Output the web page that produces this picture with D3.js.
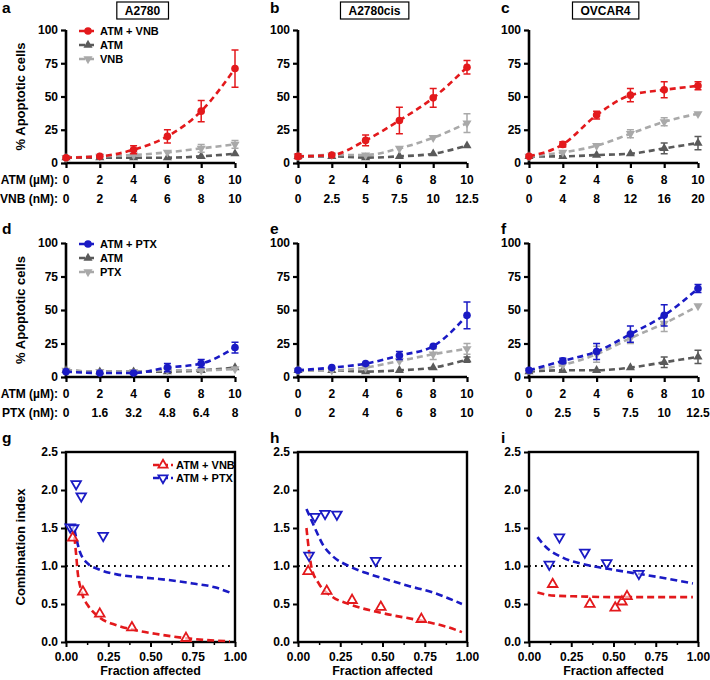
<!DOCTYPE html>
<html><head><meta charset="utf-8">
<script src="https://cdn.jsdelivr.net/npm/d3@7"></script>
<style>
body{margin:0;background:#fff;}
text{font-family:"Liberation Sans",Arial,Helvetica,sans-serif;font-weight:bold;fill:#000;}
</style></head>
<body><svg id="c" width="710" height="680"></svg>
<script>
// ---------- DATA ----------
const atmDose = [0, 2, 4, 6, 8, 10];
const cellLines = ["A2780", "A2780cis", "OVCAR4"];
const panelLettersTop = ["a", "b", "c"];
const panelLettersMid = ["d", "e", "f"];
const panelLettersBot = ["g", "h", "i"];
const yTicksApop = [0, 25, 50, 75, 100];
const yTicksCI = [0, 0.5, 1.0, 1.5, 2.0, 2.5];
const xTicksFa = [0, 0.25, 0.5, 0.75, 1.0];

// second-row dose labels
const vnbLabels = [["0","2","4","6","8","10"], ["0","2.5","5","7.5","10","12.5"], ["0","4","8","12","16","20"]];
const ptxLabels = [["0","1.6","3.2","4.8","6.4","8"], ["0","2","4","6","8","10"], ["0","2.5","5","7.5","10","12.5"]];

// Row 1 (VNB)
const a_combo = [4, 5, 10, 20, 39, 71];   const a_combo_err = [1, 1, 3, 5, 8, 14];
const a_atm   = [4, 4, 4, 4, 5, 7];       const a_atm_err   = [1, 1, 1, 1, 1, 1];
const a_drug  = [4, 5, 6, 8, 11, 14];     const a_drug_err  = [1, 1, 1, 1, 3, 3];
const b_combo = [5, 6, 17, 32, 49, 72];   const b_combo_err = [2, 1, 4, 10, 7, 5];
const b_atm   = [5, 5, 4, 5, 7, 13];      const b_atm_err   = [1, 1, 1, 1, 1, 1];
const b_drug  = [5, 6, 6, 11, 19, 30];    const b_drug_err  = [1, 1, 1, 1, 1, 7];
const c_combo = [5, 14, 36, 51, 55, 58];  const c_combo_err = [1, 2, 3, 5, 6, 3];
const c_atm   = [5, 5, 6, 7, 11, 15];     const c_atm_err   = [1, 1, 1, 1, 4, 5];
const c_drug  = [5, 8, 13, 22, 31, 37];   const c_drug_err  = [1, 1, 1, 3, 3, 1];
// Row 2 (PTX)
const d_combo = [4, 3, 3, 7, 10, 22];     const d_combo_err = [1, 1, 1, 3, 3, 4];
const d_atm   = [5, 4, 4, 4, 5, 7];       const d_atm_err   = [1, 1, 1, 1, 1, 1];
const d_drug  = [5, 4, 4, 5, 5, 6];       const d_drug_err  = [1, 1, 1, 1, 1, 1];
const e_combo = [5, 7, 10, 16, 23, 46];   const e_combo_err = [1, 1, 1, 3, 1, 10];
const e_atm   = [5, 5, 4, 5, 7, 13];      const e_atm_err   = [1, 1, 1, 1, 1, 2];
const e_drug  = [5, 5, 7, 12, 17, 21];    const e_drug_err  = [1, 1, 1, 1, 4, 4];
const f_combo = [5, 12, 19, 32, 46, 66];  const f_combo_err = [1, 2, 6, 6, 8, 3];
const f_atm   = [4, 5, 5, 7, 11, 15];     const f_atm_err   = [1, 1, 1, 1, 4, 5];
const f_drug  = [5, 9, 17, 29, 40, 53];   const f_drug_err  = [1, 1, 6, 4, 6, 1];

// Row 3 combination index points [fa, CI]
const g_vnb_pts = [[0.04,1.37],[0.10,0.66],[0.20,0.37],[0.39,0.19],[0.71,0.05]];
const g_ptx_pts = [[0.025,1.51],[0.045,1.50],[0.06,2.08],[0.09,1.92],[0.22,1.40]];
const g_vnb_fit = [[0.05,1.38],[0.06,1.15],[0.07,0.9],[0.085,0.72],[0.1,0.6],[0.13,0.48],[0.2,0.32],[0.3,0.22],[0.4,0.16],[0.55,0.1],[0.75,0.04],[0.97,0.01]];
const g_ptx_fit = [[0.05,1.48],[0.08,1.2],[0.12,1.05],[0.2,0.95],[0.3,0.89],[0.4,0.86],[0.55,0.83],[0.75,0.77],[0.88,0.72],[0.97,0.65]];
const h_vnb_pts = [[0.06,0.93],[0.17,0.67],[0.32,0.55],[0.49,0.46],[0.73,0.30]];
const h_ptx_pts = [[0.065,1.14],[0.10,1.65],[0.16,1.69],[0.23,1.68],[0.46,1.07]];
const h_vnb_fit = [[0.05,1.5],[0.065,1.2],[0.08,0.98],[0.12,0.78],[0.2,0.6],[0.3,0.5],[0.5,0.38],[0.75,0.27],[0.88,0.2],[0.97,0.13]];
const h_ptx_fit = [[0.05,1.75],[0.08,1.6],[0.11,1.45],[0.15,1.27],[0.2,1.14],[0.3,1.0],[0.4,0.91],[0.5,0.84],[0.65,0.74],[0.8,0.65],[0.97,0.5]];
const i_vnb_pts = [[0.14,0.76],[0.36,0.50],[0.51,0.45],[0.55,0.53],[0.58,0.60]];
const i_ptx_pts = [[0.12,1.02],[0.18,1.38],[0.33,1.18],[0.46,1.04],[0.65,0.90]];
const i_vnb_fit = [[0.05,0.65],[0.15,0.61],[0.3,0.6],[0.5,0.59],[0.75,0.59],[0.97,0.59]];
const i_ptx_fit = [[0.05,1.38],[0.1,1.25],[0.2,1.11],[0.35,1.01],[0.5,0.95],[0.75,0.86],[0.97,0.77]];

// ---------- STYLE ----------
const RED = "#e3191c", BLUE = "#1a1ac4", DGREY = "#5a5a5a", LGREY = "#a9a9a9";
const FS = 12;
const svg = d3.select("#c");
const colX = [66, 298, 529], colW = 169;

const row1 = [
  {combo:a_combo, ce:a_combo_err, atm:a_atm, ae:a_atm_err, drug:a_drug, de:a_drug_err},
  {combo:b_combo, ce:b_combo_err, atm:b_atm, ae:b_atm_err, drug:b_drug, de:b_drug_err},
  {combo:c_combo, ce:c_combo_err, atm:c_atm, ae:c_atm_err, drug:c_drug, de:c_drug_err}];
const row2 = [
  {combo:d_combo, ce:d_combo_err, atm:d_atm, ae:d_atm_err, drug:d_drug, de:d_drug_err},
  {combo:e_combo, ce:e_combo_err, atm:e_atm, ae:e_atm_err, drug:e_drug, de:e_drug_err},
  {combo:f_combo, ce:f_combo_err, atm:f_atm, ae:f_atm_err, drug:f_drug, de:f_drug_err}];

const triUp = d3.symbol().type(d3.symbolTriangle).size(36);
const triDown = d3.symbol().type(d3.symbolTriangle).size(36);

function drawSeries(g, x, y, vals, errs, color, shape) {
  const line = d3.line().x((d,i)=>x(atmDose[i])).y(d=>y(d)).curve(d3.curveMonotoneX);
  g.append("path").attr("d", line(vals)).attr("fill","none").attr("stroke",color)
    .attr("stroke-width",2.6).attr("stroke-dasharray","6,4");
  vals.forEach((v,i)=>{
    const e = errs[i], cx = x(atmDose[i]);
    if (e > 1.2) {
      g.append("path").attr("d",`M${cx},${y(v-e)}V${y(v+e)}M${cx-3.5},${y(v-e)}H${cx+3.5}M${cx-3.5},${y(v+e)}H${cx+3.5}`)
        .attr("stroke",color).attr("stroke-width",1.5).attr("fill","none");
    }
    if (shape==="circle") g.append("circle").attr("cx",cx).attr("cy",y(v)).attr("r",3.8).attr("fill",color);
    else if (shape==="up") g.append("path").attr("d",triUp()).attr("transform",`translate(${cx},${y(v)})`).attr("fill",color);
    else g.append("path").attr("d",triDown()).attr("transform",`translate(${cx},${y(v)}) rotate(180)`).attr("fill",color);
  });
}

function legendEntry(g, lx, ly, color, shape, label, open, len) {
  g.append("line").attr("x1",lx).attr("x2",lx+len).attr("y1",ly).attr("y2",ly)
    .attr("stroke",color).attr("stroke-width",2.6).attr("stroke-dasharray","6,3");
  const cx = lx+len/2;
  if (shape==="circle") g.append("circle").attr("cx",cx).attr("cy",ly).attr("r",3.8).attr("fill",color);
  else if (shape==="up") g.append("path").attr("d",triUp()).attr("transform",`translate(${cx},${ly})`)
      .attr("fill",open?"#fff":color).attr("stroke",open?color:"none").attr("stroke-width",1.8);
  else g.append("path").attr("d",triDown()).attr("transform",`translate(${cx},${ly}) rotate(180)`)
      .attr("fill",open?"#fff":color).attr("stroke",open?color:"none").attr("stroke-width",1.8);
  g.append("text").attr("x",lx+len+3).attr("y",ly+4).attr("font-size",11).text(label);
}

function doseRow(top, bottom, rows, comboColor, drugLabels, drugName, letters, titles) {
  rows.forEach((r,k)=>{
    const x = d3.scaleLinear().domain([0,10]).range([colX[k], colX[k]+colW]);
    const y = d3.scaleLinear().domain([0,100]).range([bottom, top]);
    const g = svg.append("g");
    const ya = g.append("g").attr("transform",`translate(${colX[k]},0)`)
      .call(d3.axisLeft(y).tickValues(yTicksApop).tickSize(5).tickPadding(3));
    const xa = g.append("g").attr("transform",`translate(0,${bottom})`)
      .call(d3.axisBottom(x).tickValues(atmDose).tickSize(5).tickFormat(""));
    [ya, xa].forEach(a=>{
      a.select(".domain").attr("stroke","#000").attr("stroke-width",2.6);
      a.selectAll(".tick line").attr("stroke","#000").attr("stroke-width",2.2);
    });
    ya.select(".domain").attr("d",`M-0,${bottom+1.3}V${top}`);
    xa.select(".domain").attr("d",`M${colX[k]-1.3},0H${colX[k]+colW}`);
    ya.selectAll(".tick text").attr("font-size",FS).attr("font-family","Liberation Sans, Arial").attr("font-weight","bold");
    atmDose.forEach((d,i)=>{
      g.append("text").attr("x",x(d)).attr("y",bottom+21).attr("text-anchor","middle").attr("font-size",FS).text(String(d));
      g.append("text").attr("x",x(d)).attr("y",bottom+40).attr("text-anchor","middle").attr("font-size",FS).text(drugLabels[k][i]);
    });
    drawSeries(g, x, y, r.atm, r.ae, DGREY, "up");
    drawSeries(g, x, y, r.drug, r.de, LGREY, "down");
    drawSeries(g, x, y, r.combo, r.ce, comboColor, "circle");
    svg.append("text").attr("x", k===0 ? 2 : colX[k]-28).attr("y", titles ? 13 : top-9).attr("font-size",15.5).text(letters[k]);
    if (titles) {
      const cx = colX[k]+colW/2 - 8;
      const tg = svg.append("g");
      const rect = tg.append("rect");
      const t = tg.append("text").attr("x",cx).attr("y",top-15.5).attr("text-anchor","middle").attr("font-size",FS).text(titles[k]);
      const bb = t.node().getBBox();
      rect.attr("x",bb.x-8).attr("y",top-28).attr("width",bb.width+16).attr("height",17)
        .attr("fill","#fff").attr("stroke","#000").attr("stroke-width",1.2);
    }
    if (k===0) {
      g.append("text").attr("transform",`translate(25,${(top+bottom)/2}) rotate(-90)`).attr("text-anchor","middle")
        .attr("font-size",13).text("% Apoptotic cells");
      g.append("text").attr("x",58).attr("y",bottom+21).attr("text-anchor","end").attr("font-size",FS).text("ATM (\u00b5M):");
      g.append("text").attr("x",58).attr("y",bottom+40).attr("text-anchor","end").attr("font-size",FS).text(drugName+" (nM):");
      const lg = svg.append("g");
      legendEntry(lg, 79, top+1, comboColor, "circle", "ATM + "+drugName, false, 18);
      legendEntry(lg, 79, top+15, DGREY, "up", "ATM", false, 18);
      legendEntry(lg, 79, top+29, LGREY, "down", drugName, false, 18);
    }
  });
}

doseRow(30, 163, row1, RED, vnbLabels, "VNB", panelLettersTop, cellLines);
doseRow(243, 377, row2, BLUE, ptxLabels, "PTX", panelLettersMid, null);

// ---------- Row 3: combination index ----------
const ciPanels = [
  {vp:g_vnb_pts, pp:g_ptx_pts, vf:g_vnb_fit, pf:g_ptx_fit},
  {vp:h_vnb_pts, pp:h_ptx_pts, vf:h_vnb_fit, pf:h_ptx_fit},
  {vp:i_vnb_pts, pp:i_ptx_pts, vf:i_vnb_fit, pf:i_ptx_fit}];
const top3 = 452, bot3 = 642;
ciPanels.forEach((p,k)=>{
  const x = d3.scaleLinear().domain([0,1]).range([colX[k], colX[k]+colW]);
  const y = d3.scaleLinear().domain([0,2.5]).range([bot3, top3]);
  const g = svg.append("g");
  g.append("g").attr("transform",`translate(0,${bot3})`)
    .call(d3.axisBottom(x).tickValues([0.125,0.375,0.625,0.875]).tickSize(3).tickFormat(""))
    .call(a=>{a.select(".domain").remove(); a.selectAll(".tick line").attr("stroke","#000").attr("stroke-width",1.5);});
  const xa = g.append("g").attr("transform",`translate(0,${bot3})`)
    .call(d3.axisBottom(x).tickValues(xTicksFa).tickSize(5).tickPadding(5).tickFormat(d3.format(".2f")));
  const ya = g.append("g").attr("transform",`translate(${colX[k]},0)`)
    .call(d3.axisLeft(y).tickValues(yTicksCI).tickSize(5).tickPadding(3).tickFormat(d3.format(".1f")));
  [xa,ya].forEach(a=>{
    a.select(".domain").remove();
    a.selectAll(".tick line").attr("stroke","#000").attr("stroke-width",2);
    a.selectAll(".tick text").attr("font-size",FS).attr("font-family","Liberation Sans, Arial").attr("font-weight","bold");
  });
  g.append("rect").attr("x",colX[k]).attr("y",top3).attr("width",colW).attr("height",bot3-top3)
    .attr("fill","none").attr("stroke","#000").attr("stroke-width",2.4);
  g.append("line").attr("x1",x(0)).attr("x2",x(1)).attr("y1",y(1)).attr("y2",y(1))
    .attr("stroke","#000").attr("stroke-width",2.2).attr("stroke-dasharray","1.8,4.2");
  const line = d3.line().x(d=>x(d[0])).y(d=>y(d[1])).curve(d3.curveMonotoneX);
  g.append("path").attr("d",line(p.pf)).attr("fill","none").attr("stroke",BLUE).attr("stroke-width",2.6).attr("stroke-dasharray","7,4");
  g.append("path").attr("d",line(p.vf)).attr("fill","none").attr("stroke",RED).attr("stroke-width",2.6).attr("stroke-dasharray","7,4");
  p.pp.forEach(d=>g.append("path").attr("d",d3.symbol().type(d3.symbolTriangle).size(40)())
    .attr("transform",`translate(${x(d[0])},${y(d[1])}) rotate(180)`).attr("fill","#fff").attr("fill-opacity",0.6).attr("stroke",BLUE).attr("stroke-width",1.8));
  p.vp.forEach(d=>g.append("path").attr("d",d3.symbol().type(d3.symbolTriangle).size(40)())
    .attr("transform",`translate(${x(d[0])},${y(d[1])})`).attr("fill","#fff").attr("fill-opacity",0.6).attr("stroke",RED).attr("stroke-width",1.8));
  g.append("text").attr("x",colX[k]+colW/2).attr("y",675).attr("text-anchor","middle").attr("font-size",12.5).text("Fraction affected");
  svg.append("text").attr("x", k===0 ? 2 : colX[k]-28).attr("y", 443).attr("font-size",15.5).text(panelLettersBot[k]);
  if (k===0) {
    g.append("text").attr("transform",`translate(25,${(top3+bot3)/2}) rotate(-90)`).attr("text-anchor","middle")
      .attr("font-size",13).text("Combination index");
    const lg = svg.append("g");
    legendEntry(lg, 153, 465, RED, "up", "ATM + VNB", true, 20);
    legendEntry(lg, 153, 478, BLUE, "down", "ATM + PTX", true, 20);
  }
});
</script></body></html>
